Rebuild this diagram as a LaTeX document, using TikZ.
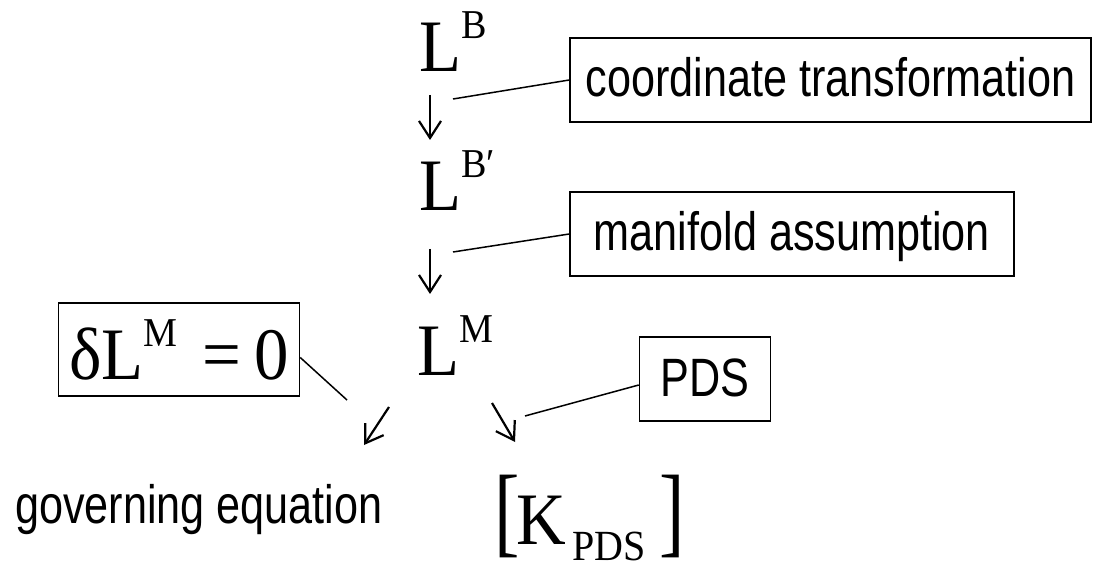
\documentclass[tikz,border=0pt]{standalone}
\usepackage{graphicx}
\usepackage{fontspec}
\setmainfont{Liberation Serif}[FakeStretch=0.93]
\newfontfamily\narrowsans{Liberation Sans}[FakeStretch=0.8]
\usetikzlibrary{arrows.meta}

% sizes of the formula symbols
\newcommand\eqfont{\fontsize{74}{74}\selectfont}
\newcommand\eqsup[1]{\raisebox{33pt}{\fontsize{41}{41}\selectfont #1}}
\newcommand\eqsub[1]{\raisebox{-16pt}{\fontsize{43}{43}\selectfont #1}}
\newcommand\tallbracket[1]{\scalebox{0.82}[1]{\fontsize{100}{100}\selectfont #1}}

\begin{document}
\begin{tikzpicture}[x=1pt,y=-1pt,
  labelbox/.style={draw, line width=1.5pt, inner sep=0pt,
    font=\narrowsans\fontsize{54}{54}\selectfont,
    text height=39pt, text depth=5pt, minimum height=84pt},
  sanslabel/.style={inner sep=0pt, anchor=base west,
    font=\narrowsans\fontsize{54}{54}\selectfont},
  eqlabel/.style={inner sep=0pt, anchor=base west, font=\eqfont},
  leader/.style={line width=1.5pt},
  flow/.style={line width=2.2pt, -{Straight Barb[length=17pt,width=22pt]}}]

\useasboundingbox (0,0) rectangle (1093,561);

% the chain of Lagrangians
\node[eqlabel] (lb)  at (419,72)  {L\eqsup{B}};
\node[eqlabel] (lbp) at (419,211) {L\eqsup{B′}};
\node[eqlabel] (lm)  at (417,376) {L\eqsup{M}};

% boxed annotations
\node[labelbox, minimum width=521pt] (ct)  at (830.5,80) {coordinate transformation};
\node[labelbox, minimum width=444pt] (ma)  at (792,234)  {manifold assumption};
\node[labelbox, minimum width=131pt] (pds) at (705,379)  {PDS};
\node[draw, line width=1.5pt, inner sep=0pt, minimum width=241pt, minimum height=93pt,
      font=\eqfont] (var) at (179,349.5) {δL\eqsup{M}\kern25pt=\kern13pt0};

% results
\node[sanslabel] (ge) at (15,523) {governing equation};
\node[eqlabel] (k) at (494,544)
  {\tallbracket{[}\kern-3pt K\kern6pt\eqsub{PDS}\kern14pt\tallbracket{]}};

% arrow and leader end points
\coordinate (a1s) at (430,95);  \coordinate (a1e) at (430,140);
\coordinate (a2s) at (430,249); \coordinate (a2e) at (430,294);
\coordinate (a3s) at (389,407); \coordinate (a3e) at (364,445);
\coordinate (a4s) at (492,403); \coordinate (a4e) at (515,442);
\coordinate (ctend)  at (453,99);
\coordinate (maend)  at (453,252);
\coordinate (varend) at (347,400);
\coordinate (pdsend) at (525,416);

\draw[flow] (a1s) -- (a1e);
\draw[flow] (a2s) -- (a2e);
\draw[flow] (a3s) -- (a3e);
\draw[flow] (a4s) -- (a4e);

\draw[leader] (ct.west) -- (ctend);
\draw[leader] (ma.west) -- (maend);
\draw[leader] ([yshift=-8pt]var.east) -- (varend);
\draw[leader] ([yshift=-6pt]pds.west) -- (pdsend);
\end{tikzpicture}
\end{document}
